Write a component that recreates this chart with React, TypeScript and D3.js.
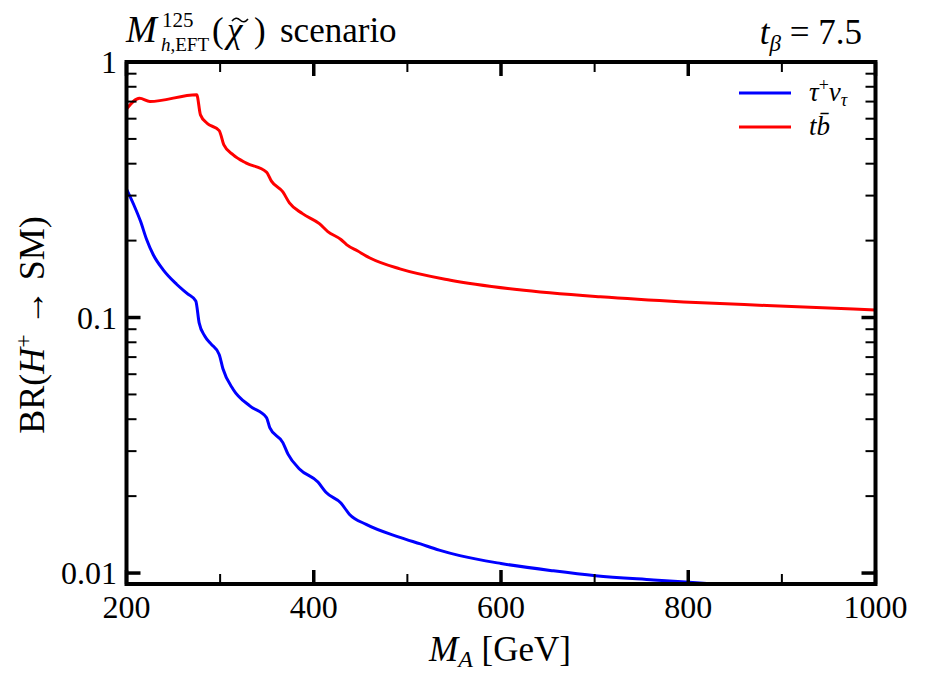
import React from "react";
import * as d3 from "d3";

const massTau = [200, 208, 215, 221.5, 228.6, 239, 253.5, 265, 274, 277.6, 283.7, 290, 299, 303, 314, 332, 349.5, 353, 367, 372.5, 385, 404.5, 413, 429, 438, 456, 492, 514, 534, 556, 600, 656, 701, 763, 801, 900, 1000];
const brTau = [0.318, 0.275, 0.238, 0.202, 0.176, 0.154, 0.135, 0.124, 0.116, 0.0953, 0.0845, 0.079, 0.0717, 0.063, 0.0523, 0.045, 0.0406, 0.0371, 0.0324, 0.0292, 0.0255, 0.0227, 0.0207, 0.0188, 0.017, 0.0155, 0.0138, 0.013, 0.0123, 0.0117, 0.0109, 0.0102, 0.00976, 0.0094, 0.0092, 0.0087, 0.0083];

const massTb = [200, 214, 225, 275, 279, 286, 299, 304, 314, 328, 349.5, 355, 367, 374, 388, 406, 415, 429, 435, 447, 460, 492, 546, 617, 706, 795, 884, 1000];
const brTb = [0.655, 0.721, 0.7, 0.745, 0.621, 0.576, 0.539, 0.474, 0.433, 0.402, 0.371, 0.341, 0.31, 0.281, 0.255, 0.233, 0.217, 0.202, 0.193, 0.182, 0.171, 0.155, 0.14, 0.1287, 0.1205, 0.1151, 0.1114, 0.107];

const xMajor = [200, 400, 600, 800, 1000];
const xMinor = [300, 500, 700, 900];
const yMajor = [0.01, 0.1, 1];
const yMajorLabels = ["0.01", "0.1", "1"];
const yMinor = [0.02, 0.03, 0.04, 0.05, 0.06, 0.07, 0.08, 0.09, 0.2, 0.3, 0.4, 0.5, 0.6, 0.7, 0.8, 0.9];

const L = 126.5, R = 875.5, T = 62, B = 584;
const FONT = "Liberation Serif, Times New Roman, DejaVu Serif, serif";

export default function App() {
  const x = d3.scaleLinear().domain([200, 1000]).range([L, R]);
  const y = d3.scaleLog().domain([0.00906, 1]).range([B, T]);
  const line = d3.line<[number, number]>().x(d => x(d[0])).y(d => y(d[1])).curve(d3.curveMonotoneX);
  const tauPts = massTau.map((m, i) => [m, brTau[i]] as [number, number]);
  const tbPts = massTb.map((m, i) => [m, brTb[i]] as [number, number]);

  return (
    <svg width={925} height={684} style={{ position: "absolute", left: 0, top: 0, background: "#fff", fontFamily: FONT }}>
      <defs>
        <clipPath id="plotclip">
          <rect x={L} y={T} width={R - L} height={B - T} />
        </clipPath>
      </defs>
      <rect x={0} y={0} width={925} height={684} fill="#fff" />
      <g clipPath="url(#plotclip)" fill="none" strokeWidth={3} strokeLinejoin="round">
        <path d={line(tbPts) || ""} stroke="#ff0000" />
        <path d={line(tauPts) || ""} stroke="#0000ff" />
      </g>
      <g stroke="#000">
        {xMajor.map(v => (
          <g key={"xM" + v}>
            <line x1={x(v)} x2={x(v)} y1={B} y2={B - 14} strokeWidth={3.5} />
            <line x1={x(v)} x2={x(v)} y1={T} y2={T + 14} strokeWidth={3.5} />
          </g>
        ))}
        {xMinor.map(v => (
          <g key={"xm" + v}>
            <line x1={x(v)} x2={x(v)} y1={B} y2={B - 10} strokeWidth={2} />
            <line x1={x(v)} x2={x(v)} y1={T} y2={T + 10} strokeWidth={2} />
          </g>
        ))}
        {yMajor.map(v => (
          <g key={"yM" + v}>
            <line x1={L} x2={L + 14} y1={y(v)} y2={y(v)} strokeWidth={3.5} />
            <line x1={R} x2={R - 14} y1={y(v)} y2={y(v)} strokeWidth={3.5} />
          </g>
        ))}
        {yMinor.map(v => (
          <g key={"ym" + v}>
            <line x1={L} x2={L + 10} y1={y(v)} y2={y(v)} strokeWidth={2} />
            <line x1={R} x2={R - 10} y1={y(v)} y2={y(v)} strokeWidth={2} />
          </g>
        ))}
        <rect x={L} y={T} width={R - L} height={B - T} fill="none" strokeWidth={4} />
      </g>
      <g fontSize={32} fill="#000">
        {xMajor.map(v => (
          <text key={"xl" + v} x={x(v)} y={618} textAnchor="middle">{v}</text>
        ))}
        {yMajor.map((v, i) => (
          <text key={"yl" + v} x={117} y={y(v) + 11} textAnchor="end">{yMajorLabels[i]}</text>
        ))}
      </g>
      <text x={429} y={661} fontSize={35}>
        <tspan fontStyle="italic">M</tspan>
        <tspan fontStyle="italic" fontSize={24} dy={6}>A</tspan>
        <tspan dy={-6}> [GeV]</tspan>
      </text>
      <text transform="translate(44,325) rotate(-90)" textAnchor="middle" fontSize={36}>
        BR(<tspan fontStyle="italic">H</tspan>
        <tspan fontSize={24} dy={-13}>+</tspan>
        <tspan dy={13}> → SM)</tspan>
      </text>
      <text x={126} y={42} fontSize={37} fontStyle="italic">M</text>
      <text x={162} y={27} fontSize={21}>125</text>
      <text x={161} y={51} fontSize={19}>
        <tspan fontStyle="italic">h</tspan>,EFT
      </text>
      <text x={212} y={42} fontSize={35}>(</text>
      <text x={227} y={42} fontSize={35} fontStyle="italic">χ</text>
      <path d="M232,21 q4,-5 8,-1 t8,-1" fill="none" stroke="#000" strokeWidth={1.6} />
      <text x={254} y={42} fontSize={35}>)</text>
      <text x={280} y={42} fontSize={35}>scenario</text>
      <text x={862} y={44} fontSize={35} textAnchor="end">
        <tspan fontStyle="italic">t</tspan>
        <tspan fontStyle="italic" fontSize={23} dy={7}>β</tspan>
        <tspan dy={-7}> = 7.5</tspan>
      </text>
      <line x1={739} x2={791} y1={93} y2={93} stroke="#0000ff" strokeWidth={3} />
      <line x1={739} x2={791} y1={127} y2={127} stroke="#ff0000" strokeWidth={3} />
      <text x={809} y={101} fontSize={27} fontStyle="italic">
        τ<tspan fontStyle="normal" fontSize={18} dy={-10}>+</tspan>
        <tspan dy={10}>ν</tspan>
        <tspan fontSize={18} dy={5}>τ</tspan>
      </text>
      <text x={809} y={135} fontSize={27} fontStyle="italic">
        t<tspan>b̄</tspan>
      </text>
    </svg>
  );
}
